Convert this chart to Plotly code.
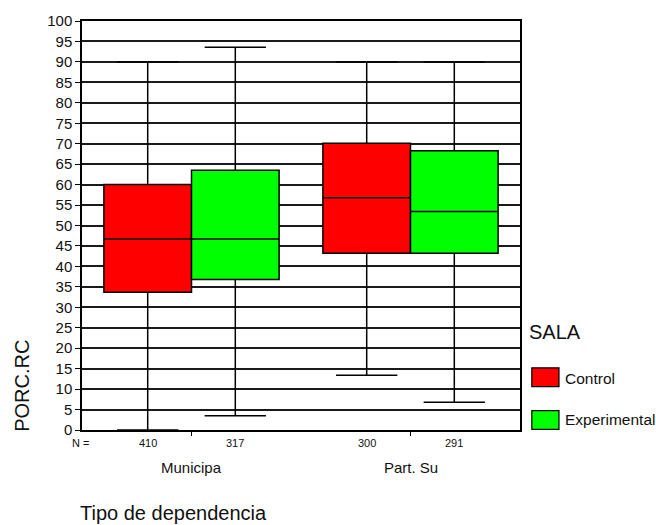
import plotly.graph_objects as go

# Categories and groups
categories = ["Municipa", "Part. Su"]
groups = ["Control", "Experimental"]
group_colors = {"Control": "#FF0000", "Experimental": "#00FF00"}

# Box statistics per group (one value per category)
lower_whisker = {"Control": [0.0, 13.4], "Experimental": [3.5, 6.8]}
q1 = {"Control": [33.7, 43.2], "Experimental": [36.8, 43.2]}
median = {"Control": [46.7, 56.8], "Experimental": [46.7, 53.4]}
q3 = {"Control": [60.0, 70.1], "Experimental": [63.5, 68.3]}
upper_whisker = {"Control": [90.0, 90.0], "Experimental": [93.6, 90.0]}

# Sample sizes per group and category
n_counts = {"Control": [410, 300], "Experimental": [317, 291]}

y_ticks = list(range(0, 101, 5))

FONT = "Liberation Sans, Arial, sans-serif"

fig = go.Figure()
for g in groups:
    fig.add_trace(go.Box(
        x=categories,
        q1=q1[g],
        median=median[g],
        q3=q3[g],
        lowerfence=lower_whisker[g],
        upperfence=upper_whisker[g],
        name=g,
        fillcolor=group_colors[g],
        line=dict(color="black", width=1.5),
        whiskerwidth=0.7,
        boxpoints=False,
        showlegend=False,
        hoverinfo="skip",
    ))

fig.update_layout(
    width=656,
    height=525,
    margin=dict(l=82, r=136, t=18, b=95),
    paper_bgcolor="white",
    plot_bgcolor="white",
    boxmode="group",
    boxgap=0.2,
    boxgroupgap=0.0,
    font=dict(family=FONT, color="black"),
    xaxis=dict(
        type="category",
        categoryorder="array",
        categoryarray=categories,
        showticklabels=False,
        ticks="outside",
        ticklen=4,
        tickcolor="black",
        showline=True,
        linecolor="black",
        linewidth=1.5,
        mirror=True,
        showgrid=False,
        zeroline=False,
    ),
    yaxis=dict(
        range=[0, 100],
        tickvals=y_ticks,
        ticktext=[str(v) for v in y_ticks],
        ticks="outside",
        ticklen=5,
        tickcolor="black",
        tickfont=dict(size=15, family=FONT, color="#111"),
        showline=True,
        linecolor="black",
        linewidth=1.5,
        mirror=True,
        showgrid=True,
        gridcolor="#1a1a1a",
        gridwidth=1.5,
        zeroline=False,
    ),
)

annotations = []


def label(text, x, y, size, xref="paper", xanchor="center", angle=0):
    return dict(text=text, x=x, xref=xref, y=y, yref="paper",
                xanchor=xanchor, yanchor="middle", textangle=angle,
                showarrow=False, font=dict(size=size, family=FONT, color="#111"))


# N = row below the axis
annotations.append(label("N =", -0.003, -0.033, 11))
offsets = {"Control": -0.2, "Experimental": 0.2}
for g in groups:
    for i, n in enumerate(n_counts[g]):
        annotations.append(label(str(n), i + offsets[g], -0.033, 11, xref="x"))

# Category labels
for i, c in enumerate(categories):
    annotations.append(label(c, i, -0.091, 15, xref="x"))

# Axis titles
annotations.append(label("Tipo de dependencia", 0.210, -0.203, 20))
annotations.append(label("PORC.RC", -0.137, 0.108, 20, angle=-90))

# Legend: title, swatches, labels
annotations.append(label("SALA", 1.016, 0.239, 20, xanchor="left"))
legend_rows = {"Control": (0.106, 0.152, 0.125),
               "Experimental": (0.0015, 0.0476, 0.026)}
shapes = []
for g in groups:
    y0, y1, ty = legend_rows[g]
    shapes.append(dict(type="rect", xref="paper", yref="paper",
                       x0=1.027, x1=1.089, y0=y0, y1=y1,
                       fillcolor=group_colors[g],
                       line=dict(color="black", width=1.2)))
    annotations.append(label(g, 1.098, ty, 15.5, xanchor="left"))

fig.update_layout(annotations=annotations, shapes=shapes)

fig.write_html("out.html")
